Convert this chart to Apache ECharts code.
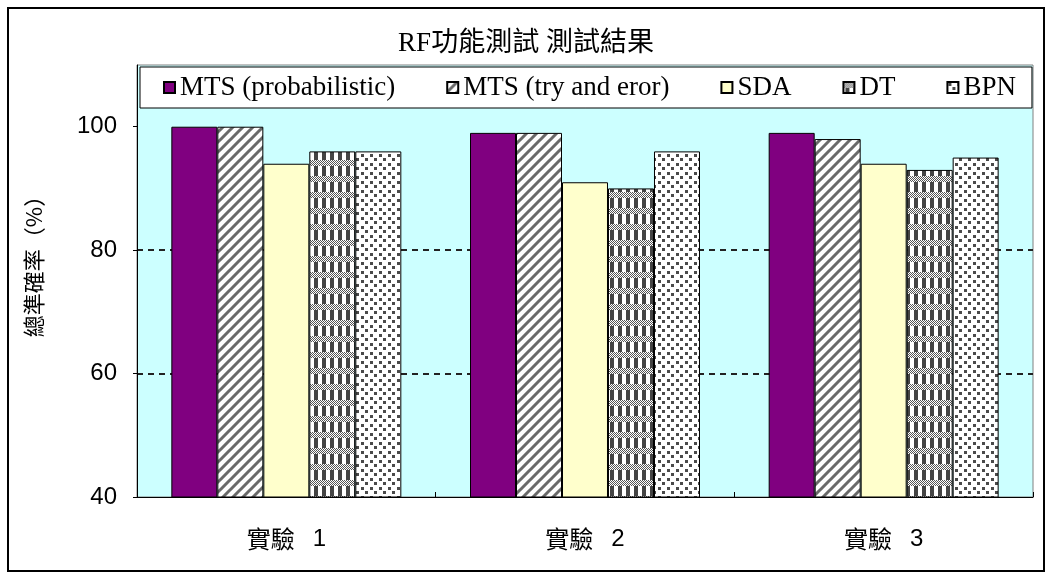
<!DOCTYPE html>
<html>
<head>
<meta charset="utf-8">
<title>RF功能測試 測試結果</title>
<script src="https://cdn.jsdelivr.net/npm/echarts@6.0.0/dist/echarts.min.js"></script>
<style>
	html, body { margin: 0; padding: 0; background: #fff; }
	#rf_tongji { width: 1052px; height: 579px; }
</style>
</head>
<body>
<div id="rf_tongji"></div>
<script>
// 類別 / 各方法的總準確率(%)
var categories = ['實驗 1', '實驗 2', '實驗 3'];
var methodNames = ['MTS (probabilistic)', 'MTS (try and eror)', 'SDA', 'DT', 'BPN'];
var mtsProbabilistic = [100, 99, 99];
var mtsTryAndError = [100, 99, 98];
var sdaData = [94, 91, 94];
var dtData = [96, 90, 93];
var bpnData = [96, 96, 95];
var yTickValues = [40, 60, 80, 100];
var yMin = 40, yMax = 110;

var cjkFont = 'Liberation Serif, Noto Sans CJK TC';

/**
 * 產生重複貼圖的填色
 */
function makeTile(w, h, draw){
	var c = document.createElement('canvas');
	c.width = w;
	c.height = h;
	var ctx = c.getContext('2d');
	ctx.fillStyle = '#fff';
	ctx.fillRect(0, 0, w, h);
	draw(ctx);
	return { image: c, repeat: 'repeat' };
}

// 斜線
function hatchFill(){
	return makeTile(10, 10, function(ctx){
		ctx.strokeStyle = '#6a6a6a';
		ctx.lineWidth = 3;
		ctx.beginPath();
		ctx.moveTo(-5, 5); ctx.lineTo(5, -5);
		ctx.moveTo(0, 10); ctx.lineTo(10, 0);
		ctx.moveTo(5, 15); ctx.lineTo(15, 5);
		ctx.stroke();
	});
}

// 格子
function plaidFill(){
	return makeTile(8, 16, function(ctx){
		ctx.fillStyle = '#555';
		for (var y = 0; y < 6; y++) {
			for (var x = 0; x < 8; x++) {
				if ((x + y) % 2 == 0) ctx.fillRect(x, y, 1, 1);
			}
		}
		ctx.fillStyle = '#444';
		ctx.fillRect(2, 6, 4, 10);
	});
}

// 點
function dotFill(){
	return makeTile(9, 9, function(ctx){
		ctx.fillStyle = '#4a4a4a';
		ctx.fillRect(1, 1, 3, 3);
		ctx.fillRect(5, 5, 3, 3);
	});
}

function drawChart(){
	var myChart = echarts.init(document.getElementById('rf_tongji'));
	var values = [mtsProbabilistic, mtsTryAndError, sdaData, dtData, bpnData];
	var fills = ['#800080', hatchFill(), '#FFFFCC', plaidFill(), dotFill()];
	var series = [];
	for (var i = 0; i < methodNames.length; i++) {
		series.push({
			name: methodNames[i],
			type: 'bar',
			data: values[i],
			barGap: 0,
			barCategoryGap: '23%',
			itemStyle: { color: fills[i], borderColor: '#000', borderWidth: 1 },
			emphasis: { disabled: true }
		});
	}
	var option = {
		animation: false,
		title: {
			text: 'RF功能測試 測試結果',
			left: 'center',
			top: 25,
			padding: [5, 0, 5, 10],
			textStyle: { fontFamily: cjkFont, fontSize: 27, fontWeight: 'normal', color: '#000' }
		},
		legend: {
			data: methodNames,
			left: 140,
			top: 67,
			padding: [7, 16, 7, 23],
			itemGap: 51,
			itemWidth: 11,
			itemHeight: 11,
			icon: 'rect',
			backgroundColor: '#fff',
			borderColor: '#000',
			borderWidth: 1,
			textStyle: { fontFamily: 'Liberation Serif', fontSize: 27, color: '#000' }
		},
		grid: {
			left: 137,
			right: 19,
			top: 65,
			bottom: 82,
			show: true,
			backgroundColor: '#CCFFFF',
			borderColor: '#808080',
			borderWidth: 1
		},
		xAxis: {
			type: 'category',
			data: categories,
			axisLine: { lineStyle: { color: '#000', width: 1 } },
			axisTick: { show: true, inside: true, length: 5, lineStyle: { color: '#000' } },
			axisLabel: {
				margin: 30,
				color: '#000',
				fontFamily: 'Noto Sans CJK TC',
				fontSize: 24,
				formatter: function(v){
					var p = v.split(' ');
					return '{a|' + p[0] + '}{b|' + p[1] + '}';
				},
				rich: {
					a: { fontFamily: 'Noto Sans CJK TC', fontSize: 24, color: '#000' },
					b: { fontFamily: 'Liberation Sans', fontSize: 24, color: '#000', padding: [0, 0, 0, 18] }
				}
			}
		},
		yAxis: {
			type: 'value',
			min: yMin,
			max: yMax,
			interval: 20,
			name: '總準確率（%）',
			nameLocation: 'middle',
			nameGap: 92,
			nameTextStyle: { fontFamily: 'Noto Sans CJK TC', fontSize: 22, color: '#000', padding: [0, 0, 0, 40] },
			axisLine: { show: true, lineStyle: { color: '#000', width: 1 } },
			axisTick: { show: true, length: 4, customValues: yTickValues, lineStyle: { color: '#000' } },
			axisLabel: { customValues: yTickValues, margin: 20, color: '#000', fontFamily: 'Liberation Sans', fontSize: 24 },
			splitLine: {
				show: true,
				showMinLine: false,
				showMaxLine: false,
				lineStyle: { color: '#222', width: 2, type: [6, 5] }
			}
		},
		graphic: [{
			type: 'rect',
			silent: true,
			z: 100,
			shape: { x: 8, y: 8, width: 1036, height: 563 },
			style: { fill: null, stroke: '#000', lineWidth: 2 }
		}],
		series: series
	};
	myChart.setOption(option);
}

drawChart();
</script>
</body>
</html>
